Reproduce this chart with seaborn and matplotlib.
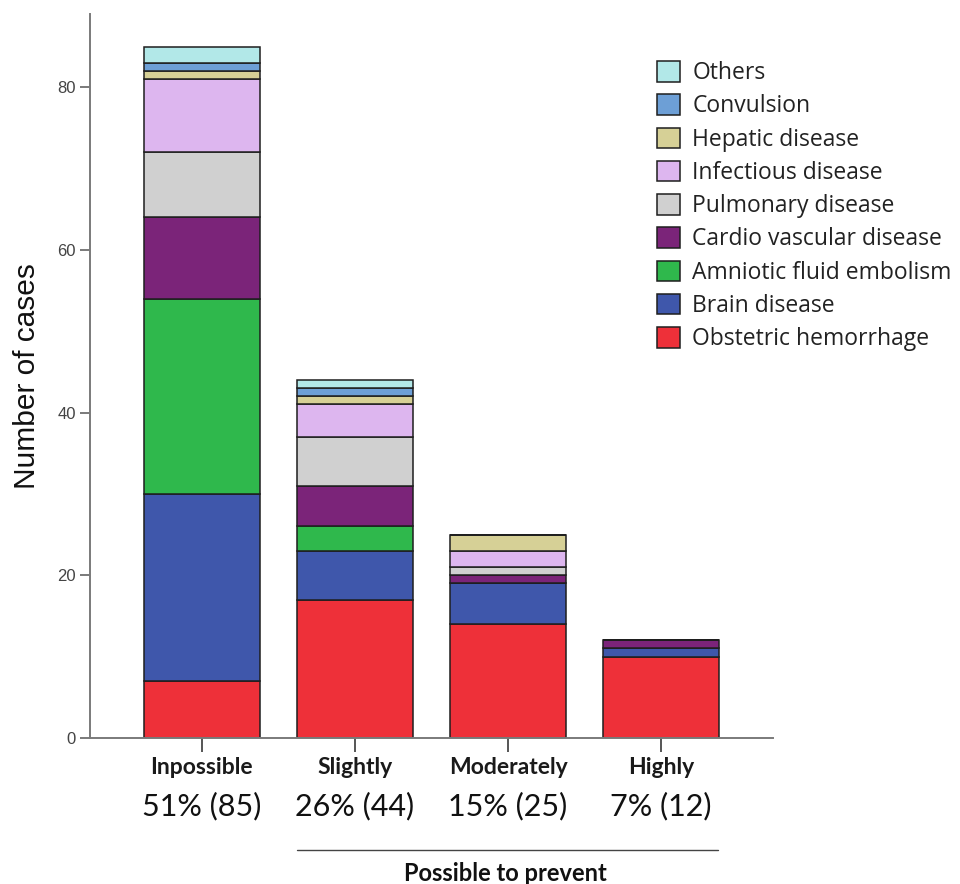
import matplotlib
matplotlib.use('Agg')
import matplotlib.pyplot as plt
import seaborn as sns

sns.set_style('white')
plt.rcParams['font.family'] = ['Liberation Sans', 'DejaVu Sans']

# data
groups = ['Inpossible', 'Slightly', 'Moderately', 'Highly']
pct_labels = ['51% (85)', '26% (44)', '15% (25)', '7% (12)']

# stacked bottom -> top
causes = ['Obstetric hemorrhage', 'Brain disease', 'Amniotic fluid embolism',
          'Cardio vascular disease', 'Pulmonary disease', 'Infectious disease',
          'Hepatic disease', 'Convulsion', 'Others']
obstetric = [7, 17, 14, 10]
brain = [23, 6, 5, 1]
amniotic = [24, 3, 0, 0]
cardio = [10, 5, 1, 1]
pulmonary = [8, 6, 1, 0]
infectious = [9, 4, 2, 0]
hepatic = [1, 1, 2, 0]
convulsion = [1, 1, 0, 0]
others = [2, 1, 0, 0]
series = [obstetric, brain, amniotic, cardio, pulmonary, infectious,
          hepatic, convulsion, others]
colors = ['#ee3039', '#3f57ab', '#2fb84c', '#7b2479', '#d0d0d0',
          '#ddb6ef', '#d6d096', '#6d9fd6', '#b2e8e8']

fig = plt.figure(figsize=(9.6, 8.84), dpi=100)
ax = fig.add_axes([0.09375, 0.1652, 0.7115, 0.819])

bottoms = [0, 0, 0, 0]
for name, vals, col in zip(causes, series, colors):
    sns.barplot(x=groups, y=vals, bottom=bottoms, color=col, saturation=1,
                width=0.76, edgecolor='#1e1e1e', linewidth=1.1,
                errorbar=None, label=name, ax=ax)
    bottoms = [b + v for b, v in zip(bottoms, vals)]

handles, labels = ax.get_legend_handles_labels()
if ax.get_legend() is not None:
    ax.get_legend().remove()

ax.set_xlim(-0.73, 3.73)
ax.set_ylim(0, 89)
ax.set_yticks([0, 20, 40, 60, 80])

for s in ['top', 'right']:
    ax.spines[s].set_visible(False)
for s in ['left', 'bottom']:
    ax.spines[s].set_color('#7a7a7a')
    ax.spines[s].set_linewidth(1.4)

ax.tick_params(axis='y', length=7, width=1.4, color='#7a7a7a', labelsize=12,
               labelcolor='#444444', pad=3, left=True)
ax.tick_params(axis='x', length=10, width=1.4, color='#555555', pad=4, bottom=True)
for lab in ax.get_xticklabels():
    lab.set_fontfamily('Lato')
    lab.set_fontweight('bold')
    lab.set_fontsize(16.5)
    lab.set_color('#1a1a1a')

ax.set_xlabel('')
ax.set_ylabel('Number of cases', fontsize=21.5, color='#111111')
ax.yaxis.set_label_coords(-0.072, 0.5)

# percentage labels under the category names
trans = ax.get_xaxis_transform()
for i, txt in enumerate(pct_labels):
    ax.text(i, -0.094, txt, transform=trans, ha='center', va='center',
            fontsize=22, family='Lato', color='#111111')

# bracket line + group title
ax.plot([0.62, 3.37], [-0.155, -0.155], transform=trans, color='#444444',
        linewidth=1.0, clip_on=False)
ax.text(1.98, -0.187, 'Possible to prevent', transform=trans, ha='center',
        va='center', fontsize=17, family='Lato', fontweight='bold',
        color='#111111')

leg = fig.legend(handles[::-1], labels[::-1], loc='upper left',
                 bbox_to_anchor=(0.684, 0.931), frameon=False,
                 prop={'family': 'Open Sans', 'size': 16.5},
                 handlelength=1.0, handleheight=1.0, handletextpad=0.55,
                 labelspacing=0.4, borderpad=0, borderaxespad=0)
for t in leg.get_texts():
    t.set_color('#222222')

fig.savefig('out.png', dpi=100)
plt.close(fig)
